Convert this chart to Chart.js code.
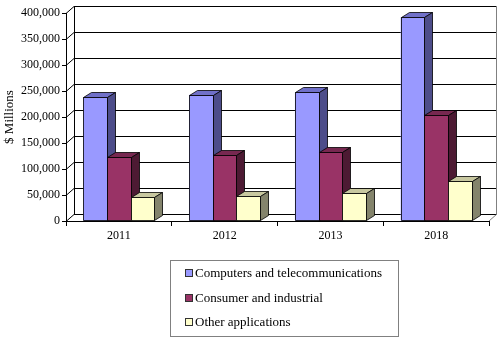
<!DOCTYPE html>
<html>
<head>
<meta charset="utf-8">
<script src="https://cdn.jsdelivr.net/npm/chart.js@4/dist/chart.umd.min.js"></script>
<style>
  html, body { margin: 0; padding: 0; background: #fff; }
  #wrap { position: relative; width: 500px; height: 340px; }
  #legend {
    position: absolute; left: 170px; top: 260px; width: 227px; height: 75px;
    border: 1px solid #808080; font: 13px "Liberation Serif", serif; color: #000;
  }
  #legend div { height: 24.5px; line-height: 24.5px; white-space: nowrap; }
  #legend span {
    display: inline-block; width: 6px; height: 6px; border: 1px solid #333;
    margin: 0 2px 0 14px; vertical-align: middle; position: relative; top: -1px;
  }
</style>
</head>
<body>
<div id="wrap">
  <canvas id="chart" width="500" height="340"></canvas>
  <div id="legend"></div>
</div>
<script>
const years = ["2011", "2012", "2013", "2018"];
const seriesNames = ["Computers and telecommunications", "Consumer and industrial", "Other applications"];
const computers = [238000, 243000, 248000, 392000];
const consumer = [124000, 127000, 132000, 204000];
const other = [47000, 49000, 53000, 76000];

// front / top / side shades per series
const faces = [
  { front: "#9999ff", top: "#7070c8", side: "#4d4d8a" },
  { front: "#993366", top: "#772850", side: "#4d1a33" },
  { front: "#ffffcc", top: "#c8c8a0", side: "#84846c" },
];

const DX = 8, DY = 7; // wall depth
const BX = 8, BY = 5; // bar depth
const FONT = "'Liberation Serif', serif";

function poly(ctx, pts, fill) {
  ctx.beginPath();
  ctx.moveTo(pts[0][0], pts[0][1]);
  for (let i = 1; i < pts.length; i++) ctx.lineTo(pts[i][0], pts[i][1]);
  ctx.closePath();
  ctx.fillStyle = fill;
  ctx.fill();
  ctx.stroke();
}

const box3d = {
  id: "box3d",
  beforeDatasetsDraw(chart) {
    const { ctx, chartArea: a, scales: { y } } = chart;
    ctx.save();
    ctx.lineWidth = 1;
    ctx.strokeStyle = "#000";
    y.ticks.forEach((t) => {
      const py = Math.round(y.getPixelForValue(t.value)) + 0.5;
      ctx.beginPath();
      ctx.moveTo(a.left, py);
      ctx.lineTo(a.left + DX, py - DY);
      ctx.lineTo(a.right + DX, py - DY);
      ctx.stroke();
    });
    // back wall left edge
    ctx.beginPath();
    ctx.moveTo(a.left + DX + 0.5, a.top - DY);
    ctx.lineTo(a.left + DX + 0.5, a.bottom - DY);
    ctx.stroke();
    // back wall right edge and floor right edge
    ctx.strokeStyle = "#808080";
    ctx.beginPath();
    ctx.moveTo(a.right + DX - 0.5, a.top - DY);
    ctx.lineTo(a.right + DX - 0.5, a.bottom - DY);
    ctx.moveTo(a.right, a.bottom);
    ctx.lineTo(a.right + DX, a.bottom - DY);
    ctx.stroke();
    ctx.restore();
  },
  afterDatasetsDraw(chart) {
    const ctx = chart.ctx;
    ctx.save();
    ctx.lineWidth = 0.8;
    ctx.strokeStyle = "#000";
    years.forEach((_, i) => {
      chart.data.datasets.forEach((ds, d) => {
        const bar = chart.getDatasetMeta(d).data[i];
        const { x, y, base, width } = bar.getProps(["x", "y", "base", "width"], true);
        const l = Math.round(x - width / 2) + 0.5, r = Math.round(x + width / 2) + 0.5;
        const t = Math.round(y) + 0.5, b = Math.round(base) - 0.5;
        const c = faces[d];
        poly(ctx, [[l, t], [r, t], [r, b], [l, b]], c.front);
        poly(ctx, [[l, t], [l + BX, t - BY], [r + BX, t - BY], [r, t]], c.top);
        poly(ctx, [[r, t], [r + BX, t - BY], [r + BX, b - BY], [r, b]], c.side);
      });
    });
    ctx.restore();
  },
};

new Chart(document.getElementById("chart"), {
  type: "bar",
  data: {
    labels: years,
    datasets: [computers, consumer, other].map((values, d) => ({
      label: seriesNames[d],
      data: values,
      backgroundColor: faces[d].front,
      borderWidth: 0,
      categoryPercentage: 0.67,
      barPercentage: 1,
    })),
  },
  options: {
    responsive: false,
    animation: false,
    layout: { padding: { top: 13, right: 11, left: 0, bottom: 0 } },
    plugins: { legend: { display: false }, tooltip: { enabled: false } },
    scales: {
      x: {
        grid: { offset: true, drawOnChartArea: false, color: "#000", tickLength: 5 },
        border: { color: "#000" },
        ticks: { color: "#000", font: { family: FONT, size: 12 }, padding: 3 },
        afterFit(s) { s.height = 119; },
      },
      y: {
        min: 0,
        max: 400000,
        ticks: {
          stepSize: 50000,
          color: "#000",
          font: { family: FONT, size: 12 },
          padding: 2,
          callback: (v) => v.toLocaleString("en-US"),
        },
        grid: { drawOnChartArea: false, color: "#000", tickLength: 4 },
        border: { color: "#000" },
        title: {
          display: true,
          text: "$ Millions",
          color: "#000",
          font: { family: FONT, size: 13 },
          padding: { top: 2, bottom: 0 },
        },
        afterFit(s) { s.width = 66; },
      },
    },
  },
  plugins: [box3d],
});

const legend = document.getElementById("legend");
seriesNames.forEach((name, d) => {
  const row = document.createElement("div");
  const mark = document.createElement("span");
  mark.style.background = faces[d].front;
  row.appendChild(mark);
  row.appendChild(document.createTextNode(name));
  legend.appendChild(row);
});
</script>
</body>
</html>
